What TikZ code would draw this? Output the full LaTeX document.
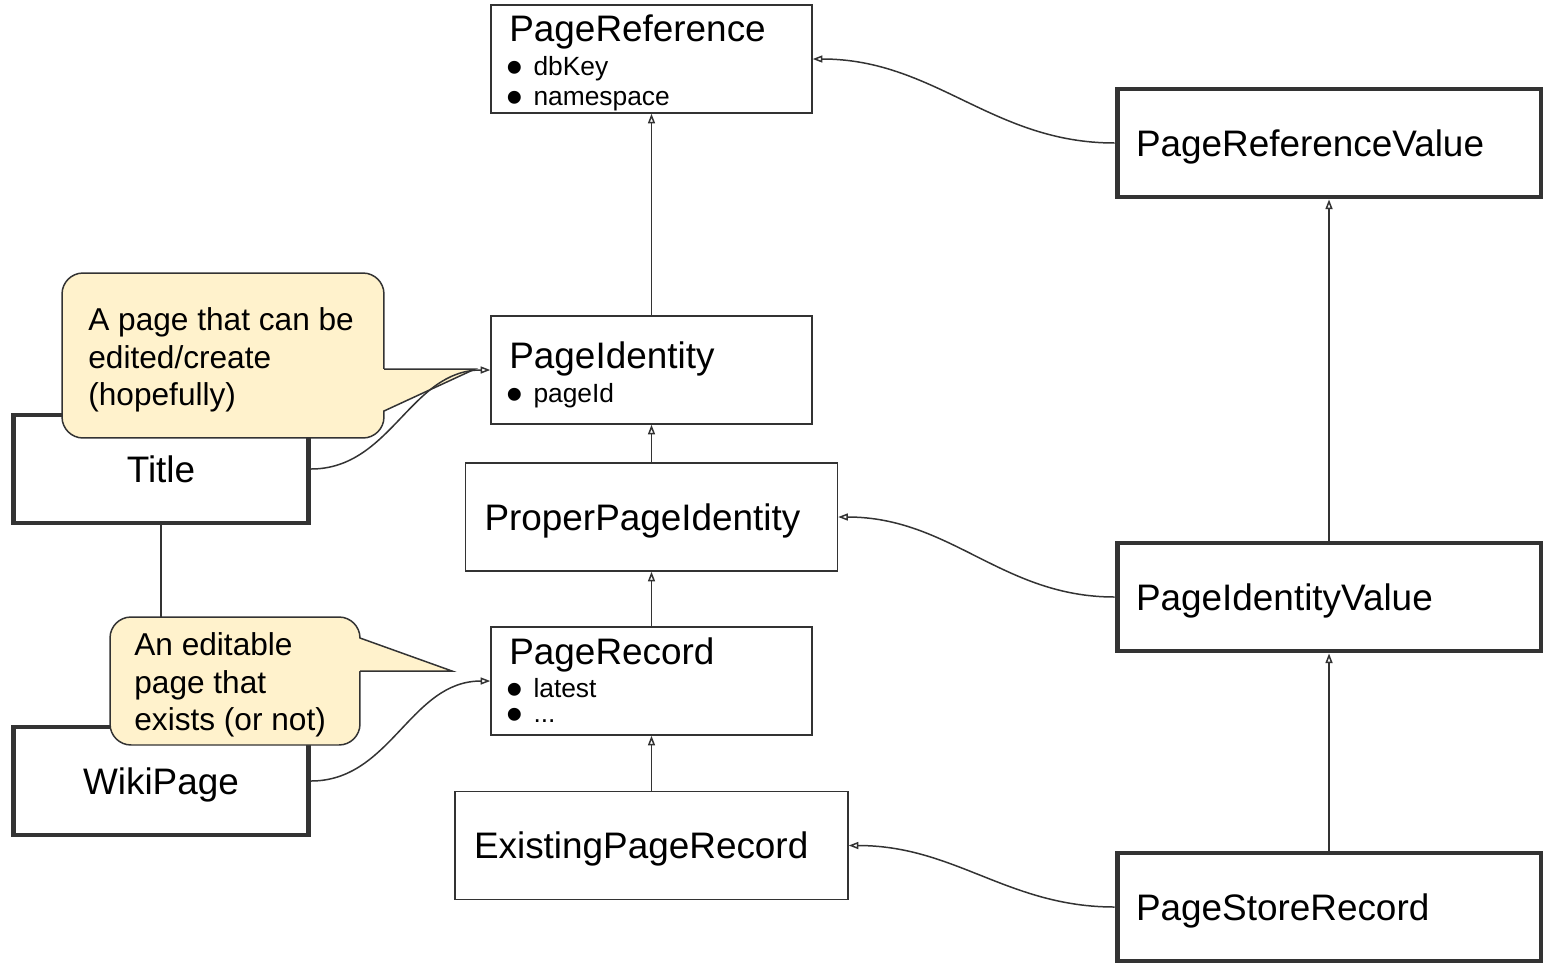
\documentclass[tikz,border=0pt]{standalone}
\usepackage{fontspec}
\setmainfont{Liberation Sans}
\usetikzlibrary{arrows.meta}
\definecolor{edge}{HTML}{333333}
\definecolor{notefill}{HTML}{FFF2CC}
\newcommand{\itemdot}{\smash{\raisebox{-4.7pt}{\scalebox{1.8}{\textbullet}}}\hspace{6pt}}

\begin{document}
\begin{tikzpicture}[x=0.02cm, y=-0.02cm, >={Triangle[open, length=5.5pt, width=4pt]},
    cls/.style={draw=edge, line width=0.85pt, fill=white, minimum height=2.16cm, inner sep=0pt},
    val/.style={draw=edge, line width=2.8pt, fill=white, minimum height=2.16cm, inner sep=0pt, text depth=0pt},
    padded/.style={inner xsep=0.38cm, align=left, text depth=0pt, font=\fontsize{21}{25}\selectfont},
    big/.style={font=\fontsize{21}{25}\selectfont, inner sep=0pt, text depth=0pt, anchor=west},
    item/.style={font=\fontsize{15}{18}\selectfont, inner sep=0pt, text depth=0pt, anchor=west},
    memo/.style={draw=edge, line width=0.85pt, fill=notefill, rounded corners=0.42cm},
    memotext/.style={font=\fontsize{18}{21.5}\selectfont, align=left, inner sep=0pt, anchor=west},
    link/.style={draw=edge, line width=0.85pt}]
  \useasboundingbox (0,0) rectangle (1544,964);

  % class boxes in the middle
  \node[cls, minimum width=6.42cm] (pref) at (651.5,59) {};
  \node[big] (prefT) at (509,28) {PageReference};
  \node[item] (prefA) at (506,66) {\itemdot dbKey};
  \node[item] (prefB) at (506,98) {\itemdot namespace};

  \node[cls, minimum width=6.42cm] (pid) at (651.5,370) {};
  \node[big] (pidT) at (509,355) {PageIdentity};
  \node[item] (pidA) at (506,393) {\itemdot pageId};

  \node[cls, padded, text width=6.68cm] (ppid) at (651.5,517) {ProperPageIdentity};

  \node[cls, minimum width=6.42cm] (prec) at (651.5,681) {};
  \node[big] (precT) at (509,651) {PageRecord};
  \node[item] (precA) at (506,688) {\itemdot latest};
  \node[item] (precB) at (506,721) {\itemdot ...};

  \node[cls, padded, text width=7.1cm] (eprec) at (651.5,845.5) {ExistingPageRecord};

  % value classes on the right
  \node[val, padded, text width=7.72cm] (prefv) at (1329,143) {PageReferenceValue};
  \node[val, padded, text width=7.72cm] (pidv) at (1329,597) {PageIdentityValue};
  \node[val, padded, text width=7.72cm] (psr) at (1329,907) {PageStoreRecord};

  % old classes on the left
  \node[val, minimum width=5.9cm, font=\fontsize{21}{25}\selectfont] (title) at (161,469) {Title};
  \node[val, minimum width=5.9cm, font=\fontsize{21}{25}\selectfont] (wiki) at (161,781) {WikiPage};
  \draw[link] (title) -- (wiki);

  % callouts
  \node[memo, minimum width=6.44cm, minimum height=3.3cm] (noteA) at (223,355.5) {};
  \fill[notefill] (382,369) -- (475,369) -- (382,411) -- cycle;
  \draw[link] (384,369) -- (475,369) -- (384,411);
  \node[memotext] (noteAT) at (88,360) {A page that can be\\edited/create\\(hopefully)};

  \node[memo, minimum width=5cm, minimum height=2.56cm] (noteB) at (235,681) {};
  \fill[notefill] (358,638) -- (452,671) -- (358,671) -- cycle;
  \draw[link] (360,638) -- (452,671) -- (360,671);
  \node[memotext] (noteBT) at (134,685) {An editable\\page that\\exists (or not)};

  % inheritance
  \draw[link, ->] (pid) -- (pref);
  \draw[link, ->] (ppid) -- (pid);
  \draw[link, ->] (prec) -- (ppid);
  \draw[link, ->] (eprec) -- (prec);
  \draw[link, ->] (pidv) -- (prefv);
  \draw[link, ->] (psr) -- (pidv);

  \draw[link, ->] (prefv.west) to[out=180, in=0] (pref.east);
  \draw[link, ->] (pidv.west) to[out=180, in=0] (ppid.east);
  \draw[link, ->] (psr.west) to[out=180, in=0] (eprec.east);
  \draw[link, ->] (title.east) to[out=0, in=180] (pid.west);
  \draw[link, ->] (wiki.east) to[out=0, in=180] (prec.west);
\end{tikzpicture}
\end{document}
